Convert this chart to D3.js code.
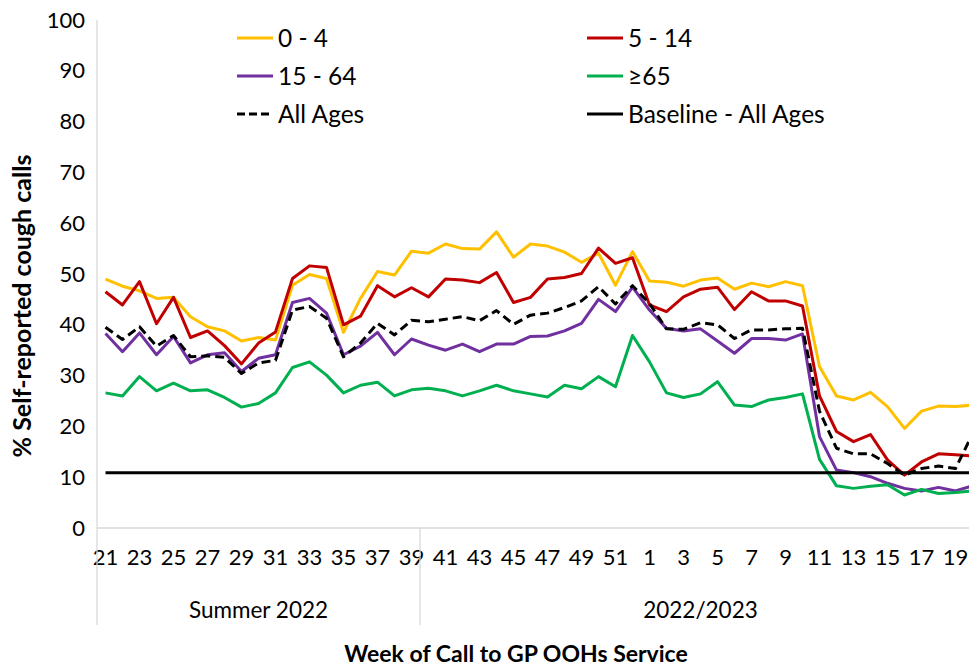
<!DOCTYPE html>
<html>
<head>
<meta charset="utf-8">
<script src="https://cdn.jsdelivr.net/npm/d3@7"></script>
<style>
  body { margin: 0; background: #fff; }
  text { font-family: Lato, "Liberation Sans", sans-serif; fill: #000; }
</style>
</head>
<body>
<svg id="chart" width="969" height="666"></svg>
<script>
// week of call, 2022 wk21 .. 2023 wk20
const weeks = ["21","22","23","24","25","26","27","28","29","30","31","32","33","34","35","36",
  "37","38","39","40","41","42","43","44","45","46","47","48","49","50","51","52",
  "1","2","3","4","5","6","7","8","9","10","11","12","13","14","15","16","17","18","19","20"];
const seasons = ["Summer 2022", "2022/2023"];
const seasonFirstWeek = ["21", "40"];

const age0to4 = [49, 47.6, 46.7, 45.2, 45.4, 41.6, 39.6, 38.8, 36.8, 37.5, 37,
  47.8, 49.9, 49.1, 38.5, 45.2, 50.5, 49.8, 54.5,
  54.1, 55.9, 55, 54.9, 58.3, 53.3, 55.9, 55.5, 54.3, 52.3, 54.1, 47.8, 54.4,
  48.6, 48.4, 47.6, 48.8, 49.2, 47, 48.2, 47.5, 48.5, 47.7, 31.8, 26, 25.2, 26.7, 23.9, 19.6, 23, 24, 23.9, 24.2];
const age5to14 = [46.5, 43.9, 48.5, 40.2, 45.4, 37.5, 38.8, 35.9, 32.3, 36.4, 38.6,
  49.1, 51.6, 51.3, 40, 41.7, 47.7, 45.5, 47.3,
  45.5, 49, 48.8, 48.3, 50.3, 44.4, 45.4, 49, 49.3, 50.1, 55.1, 52.1, 53.2,
  43.9, 42.6, 45.5, 47, 47.4, 43, 46.5, 44.7, 44.7, 43.7, 26, 19, 17, 18.4, 13.4, 10.4, 13, 14.6, 14.4, 14.2];
const age15to64 = [38.3, 34.7, 38.4, 34.1, 37.7, 32.5, 34.1, 34.5, 30.8, 33.4, 34.1,
  44.4, 45.2, 42.3, 34.1, 35.8, 38.5, 34.1, 37.2,
  36, 35, 36.2, 34.7, 36.2, 36.2, 37.7, 37.8, 38.8, 40.3, 45, 42.6, 47.4,
  42.9, 39.3, 38.8, 39.2, 36.8, 34.4, 37.3, 37.3, 37, 38.2, 18, 11.4, 10.9, 10.1, 8.8, 7.8, 7.3, 8, 7.3, 8.3];
const age65plus = [26.6, 26, 29.8, 27, 28.5, 27, 27.2, 25.7, 23.8, 24.5, 26.6,
  31.6, 32.7, 30.1, 26.6, 28.1, 28.7, 26, 27.2,
  27.5, 27, 26, 27, 28.1, 27, 26.4, 25.8, 28.1, 27.4, 29.8, 27.8, 37.9,
  32.7, 26.6, 25.7, 26.4, 28.8, 24.2, 23.9, 25.2, 25.7, 26.4, 13.5, 8.3, 7.8, 8.2, 8.5, 6.5, 7.6, 6.8, 7, 7.3];
const allAges = [39.5, 37.1, 39.6, 35.8, 37.9, 33.7, 33.9, 33.6, 30.4, 32.5, 33,
  42.9, 43.6, 41.3, 33.7, 36.4, 40.3, 38, 40.9,
  40.6, 41.1, 41.6, 40.8, 42.8, 40.1, 41.9, 42.3, 43.4, 44.7, 47.5, 44.1, 47.7,
  44.2, 39.2, 39.1, 40.4, 40, 37.3, 39, 39, 39.2, 39.3, 23, 15.7, 14.6, 14.6, 12.7, 10.4, 11.7, 12.2, 11.7, 18.5];
const baselineAllAges = 10.9;

const yTicks = [0, 10, 20, 30, 40, 50, 60, 70, 80, 90, 100];

const series = [
  { name: "0 - 4", values: age0to4, color: "#FFC000", dash: null },
  { name: "5 - 14", values: age5to14, color: "#C00000", dash: null },
  { name: "15 - 64", values: age15to64, color: "#7030A0", dash: null },
  { name: "\u226565", values: age65plus, color: "#00B050", dash: null },
  { name: "All Ages", values: allAges, color: "#000000", dash: "9,5" },
  { name: "Baseline - All Ages", values: weeks.map(() => baselineAllAges), color: "#000000", dash: null }
];

var svg = d3.select("#chart");
var plotLeft = 97, plotTop = 20, plotBottom = 528;

var x = d3.scaleBand()
  .domain(weeks)
  .range([plotLeft, plotLeft + weeks.length * 17]);

var y = d3.scaleLinear()
  .domain([0, 100])
  .range([plotBottom, plotTop]);

var cx = w => x(w) + x.bandwidth() / 2;

// axis lines
svg.append("line")
  .attr("x1", plotLeft).attr("x2", plotLeft)
  .attr("y1", plotTop).attr("y2", plotBottom)
  .style("stroke", "#d9d9d9").style("stroke-width", 1.3);
svg.append("line")
  .attr("x1", plotLeft).attr("x2", x.range()[1])
  .attr("y1", plotBottom).attr("y2", plotBottom)
  .style("stroke", "#d9d9d9").style("stroke-width", 1.3);

// y axis
var yAxis = svg.append("g")
  .attr("transform", "translate(" + plotLeft + ",0)")
  .call(d3.axisLeft(y).tickValues(yTicks).tickSize(0).tickPadding(12));
yAxis.select(".domain").remove();
yAxis.selectAll("text").style("font-size", "22px").style("font-family", "Lato, sans-serif");

// x axis (every second week)
var xAxis = svg.append("g")
  .attr("transform", "translate(0," + plotBottom + ")")
  .call(d3.axisBottom(x).tickValues(weeks.filter((d, i) => i % 2 == 0)).tickSize(0).tickPadding(21));
xAxis.select(".domain").remove();
xAxis.selectAll("text").style("font-size", "22px").style("font-family", "Lato, sans-serif");

// season groups
var seasonEdges = seasonFirstWeek.map(w => x(w)).concat([x.range()[1]]);
seasonEdges.forEach(function (ex) {
  svg.append("line")
    .attr("x1", ex).attr("x2", ex)
    .attr("y1", plotBottom).attr("y2", 625)
    .style("stroke", "#d9d9d9").style("stroke-width", 1.3);
});
svg.selectAll(".season")
  .data(seasons)
  .join("text")
  .attr("class", "season")
  .attr("x", (d, i) => (seasonEdges[i] + seasonEdges[i + 1]) / 2)
  .attr("y", 618)
  .attr("text-anchor", "middle")
  .style("font-size", "22.5px")
  .text(d => d);

// lines
var line = d3.line()
  .x((d, i) => cx(weeks[i]))
  .y(d => y(d));

svg.selectAll(".series")
  .data(series)
  .join("path")
  .attr("class", "series")
  .attr("d", d => line(d.values))
  .style("fill", "none")
  .style("stroke", d => d.color)
  .style("stroke-width", 3)
  .style("stroke-linejoin", "round")
  .style("stroke-dasharray", d => d.dash);

// legend
var legend = svg.selectAll(".legend")
  .data(series)
  .join("g")
  .attr("class", "legend")
  .attr("transform", (d, i) => "translate(" + (i % 2 == 0 ? 237 : 587) + "," + (38 + Math.floor(i / 2) * 38) + ")");

legend.append("line")
  .attr("x1", 0).attr("x2", 36)
  .style("stroke", d => d.color)
  .style("stroke-width", 3)
  .style("stroke-dasharray", d => d.dash ? "8,4" : null);

legend.append("text")
  .attr("x", 41)
  .attr("dy", "0.35em")
  .style("font-size", "24.5px")
  .text(d => d.name);

// axis titles
svg.append("text")
  .attr("transform", "translate(31,306) rotate(-90)")
  .attr("text-anchor", "middle")
  .style("font-size", "25px")
  .style("font-weight", "bold")
  .text("% Self-reported cough calls");

svg.append("text")
  .attr("x", 516)
  .attr("y", 662)
  .attr("text-anchor", "middle")
  .style("font-size", "23px")
  .style("font-weight", "bold")
  .text("Week of Call to GP OOHs Service");
</script>
</body>
</html>
